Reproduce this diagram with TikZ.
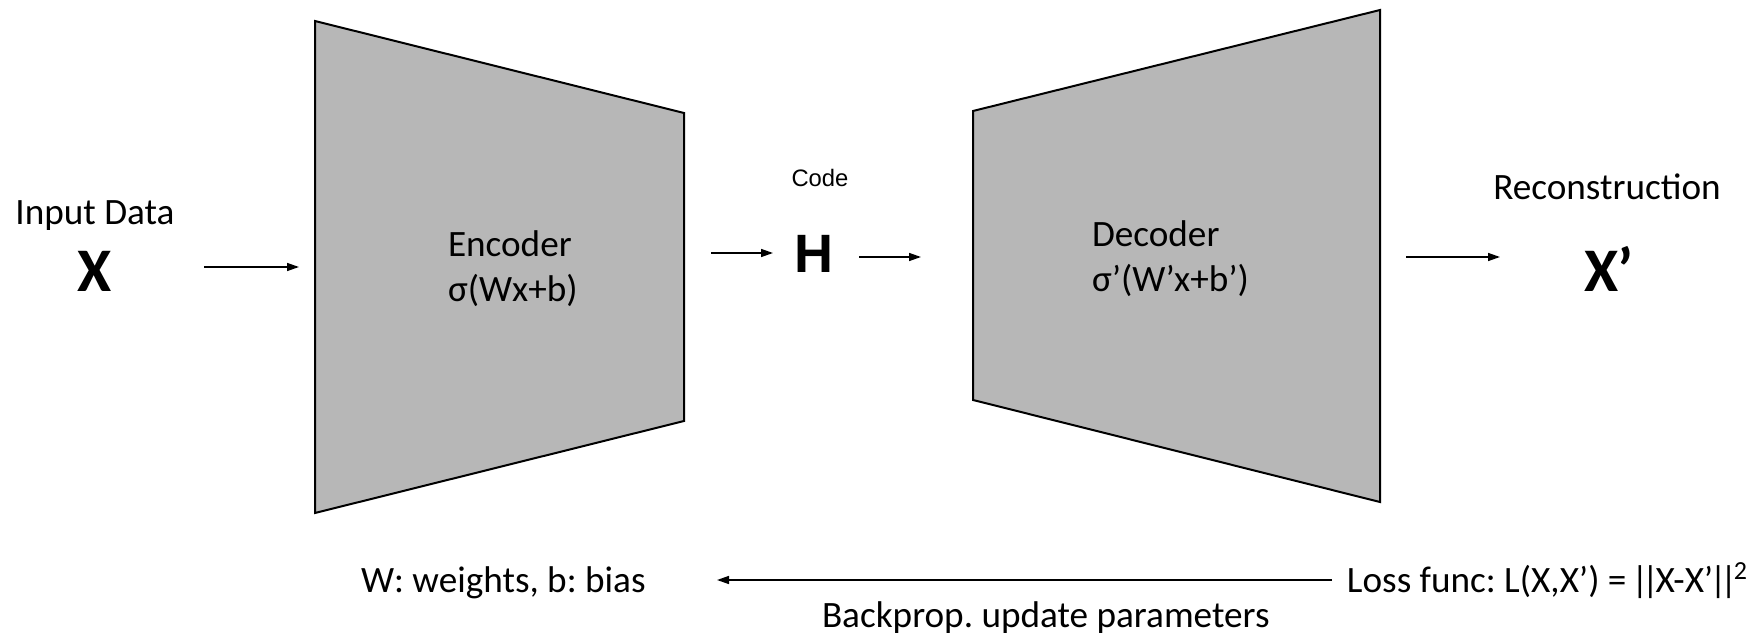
\documentclass[tikz,border=0pt]{standalone}
\usepackage{fontspec}
\setmainfont{Carlito}
\newfontfamily\arialfont{Liberation Sans}
\usetikzlibrary{arrows.meta}
\frenchspacing
\newcommand\nbar{\kern-1.7pt|\kern-1.7pt}
\tikzset{
  px/.style={x=0.5pt,y=-0.5pt},
  block/.style={draw=black,line width=1pt,fill=trapgray,line join=miter},
  conn/.style={draw=black,line width=0.75pt,-{Triangle[length=6pt,width=4pt]}},
  lbl/.style={inner sep=0pt,outer sep=0pt,font=\fontsize{18.6}{22}\selectfont},
  big/.style={inner sep=0pt,outer sep=0pt,font=\fontsize{31}{36}\selectfont\bfseries},
}
\definecolor{trapgray}{HTML}{B7B7B7}
\begin{document}
\begin{tikzpicture}[px]
\useasboundingbox (0,0) rectangle (1752,636);
% encoder trapezoid
\coordinate (e1) at (315,21);
\coordinate (e2) at (684,113);
\coordinate (e3) at (684,421);
\coordinate (e4) at (315,513);
\draw[block] (e1) -- (e2) -- (e3) -- (e4) -- cycle;
% decoder trapezoid
\coordinate (d1) at (973,111);
\coordinate (d2) at (1380,10);
\coordinate (d3) at (1380,502);
\coordinate (d4) at (973,400);
\draw[block] (d1) -- (d2) -- (d3) -- (d4) -- cycle;
% texts
\node[lbl,anchor=base] (inp) at (95,225) {Input Data};
\node[big,anchor=base] (x) at (95,292) {X};
\node[lbl,anchor=base west] (enc) at (448,257) {Encoder};
\node[lbl,anchor=base west] (encf) at (448,302) {σ(Wx+b)};
\node[anchor=base,inner sep=0pt,font=\arialfont\fontsize{11.9}{14}\selectfont] (code) at (820,187) {Code};
\node[anchor=base,inner sep=0pt,font=\arialfont\fontsize{27}{32}\selectfont\bfseries] (h) at (814,273) {H};
\node[lbl,anchor=base west] (dec) at (1092,247) {Decoder};
\node[lbl,anchor=base west] (decf) at (1092,292) {σ’(W’x+b’)};
\node[lbl,anchor=base] (rec) at (1607,200) {Reconstruction};
\node[big,anchor=base west] (xp) at (1584,292) {X’};
\node[lbl,anchor=base west] (wb) at (361,592) {W: weights, b: bias};
\node[lbl,anchor=base east] (loss) at (1748,592) {Loss func: L(X,X’) = \nbar\nbar X-X’\nbar\nbar\textsuperscript{2}};
\node[lbl,anchor=base west] (bp) at (822,627) {Backprop. update parameters};
% arrow end points
\coordinate (a1s) at (204,267); \coordinate (a1e) at (299,267);
\coordinate (a2s) at (711,253); \coordinate (a2e) at (773,253);
\coordinate (a3s) at (859,257); \coordinate (a3e) at (921,257);
\coordinate (a4s) at (1406,257); \coordinate (a4e) at (1500,257);
\coordinate (a5s) at (1332,580); \coordinate (a5e) at (717,580);
\draw[conn] (a1s) -- (a1e);
\draw[conn] (a2s) -- (a2e);
\draw[conn] (a3s) -- (a3e);
\draw[conn] (a4s) -- (a4e);
\draw[conn] (a5s) -- (a5e);
\end{tikzpicture}
\end{document}
